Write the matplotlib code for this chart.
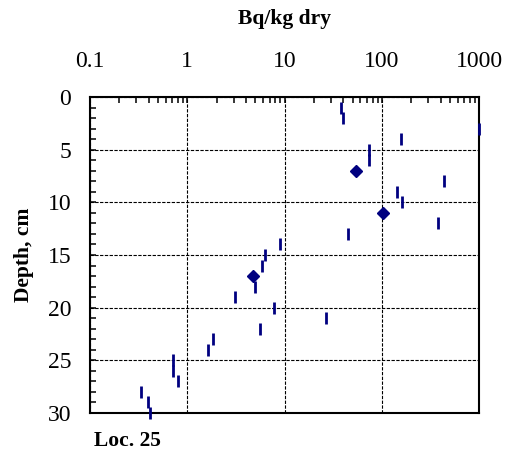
import numpy as np
import matplotlib
matplotlib.use("Agg")
import matplotlib.pyplot as plt
from matplotlib.ticker import FixedLocator, NullFormatter, LogLocator

plt.rcParams["font.family"] = ["Liberation Serif", "DejaVu Serif"]

# Activity by depth (Bq/kg dry)
depth = [1, 2, 3, 4, 5, 6, 8, 9, 10, 12, 13, 14, 15, 16, 18, 19, 20,
         21, 22, 23, 24, 25, 26, 27, 28, 29, 30]
activity = [37.9, 39.4, 1000, 155, 72.8, 74, 435, 141, 160, 372, 45, 8.88,
            6.28, 5.8, 4.92, 3.06, 7.77, 26.4, 5.62, 1.85, 1.64, 0.708,
            0.719, 0.809, 0.337, 0.395, 0.417]

# Second series (diamonds)
depth_d = [7, 11, 17]
activity_d = [54, 103, 4.73]

navy = "#000080"

fig = plt.figure(figsize=(5.13, 4.5), dpi=100)
ax = fig.add_axes([0.1754, 0.0829, 0.7591, 0.7009])

ax.plot(activity, depth, linestyle="none", marker="|", markersize=8.3,
        markeredgewidth=2.0, color=navy, clip_on=False, zorder=3)
ax.plot(activity_d, depth_d, linestyle="none", marker="D", markersize=6,
        color=navy, clip_on=False, zorder=3)

ax.set_xscale("log")
ax.set_xlim(0.1, 1000)
ax.set_ylim(30, 0)

ax.xaxis.tick_top()
ax.xaxis.set_label_position("top")
ax.xaxis.set_major_locator(FixedLocator([0.1, 1, 10, 100, 1000]))
ax.xaxis.set_minor_locator(LogLocator(base=10, subs=np.arange(2, 10)))
ax.xaxis.set_minor_formatter(NullFormatter())
ax.set_xticklabels(["0.1", "1", "10", "100", "1000"])

ax.yaxis.set_major_locator(FixedLocator(range(0, 31, 5)))
ax.yaxis.set_minor_locator(FixedLocator(range(0, 31)))

ax.tick_params(axis="both", which="both", direction="in", labelsize=17,
               width=1.1, color="black", length=4)
ax.tick_params(axis="y", which="major", pad=13.5)
ax.tick_params(axis="x", which="major", pad=18.5)

for s in ax.spines.values():
    s.set_linewidth(1.5)

ax.grid(True, which="major", color="black", linestyle=(0, (3, 1.3)), linewidth=0.8)

ax.set_xlabel("Bq/kg dry", fontweight="bold", fontsize=15.5, labelpad=19)
ax.set_ylabel("Depth, cm", fontweight="bold", fontsize=15.5, labelpad=10)

fig.text(0.183, 0.008, "Loc. 25", fontweight="bold", fontsize=15.5)

plt.savefig("out.png", dpi=100)
